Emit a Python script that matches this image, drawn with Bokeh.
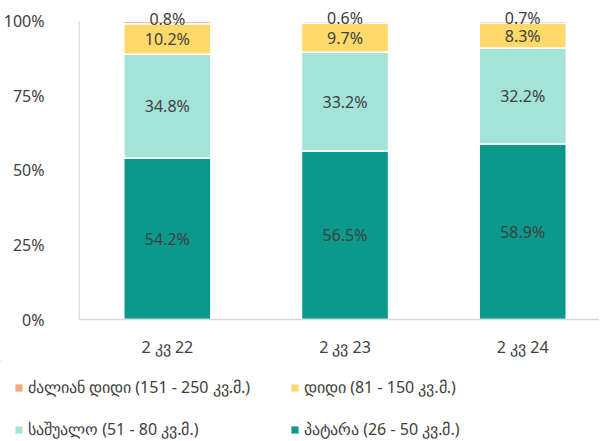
from bokeh.plotting import figure
from bokeh.models import (ColumnDataSource, Range1d, FixedTicker, PrintfTickFormatter,
                          LabelSet, Legend, LegendItem)
from bokeh.core.properties import value
from bokeh.embed import file_html
from bokeh.resources import INLINE

categories = ["2 კვ 22", "2 კვ 23", "2 კვ 24"]
small = [54.2, 56.5, 58.9]
medium = [34.8, 33.2, 32.2]
large = [10.2, 9.7, 8.3]
very_large = [0.8, 0.6, 0.7]
series_names = ["პატარა (26 - 50 კვ.მ.)", "საშუალო (51 - 80 კვ.მ.)",
                "დიდი (81 - 150 კვ.მ.)", "ძალიან დიდი (151 - 250 კვ.მ.)"]
y_ticks = [0, 25, 50, 75, 100]

colors = ["#0A998B", "#A4E3D8", "#FFD96A", "#F6A878"]
FONT = "Noto Sans"
TXT = "#404040"
AXC = "#D9D9D9"

xs = [i + 0.5 for i in range(len(categories))]
keys = ["small", "medium", "large", "very_large"]
src = ColumnDataSource(dict(x=xs, small=small, medium=medium, large=large, very_large=very_large))

p = figure(width=599, height=360, output_backend="svg", toolbar_location=None,
           x_range=Range1d(0, 2.932), y_range=Range1d(0, 104),
           min_border_left=69, min_border_right=0, min_border_top=9, min_border_bottom=40)
p.outline_line_color = None
p.grid.visible = False

rs = p.vbar_stack(keys, x="x", width=0.49, source=src, color=colors,
                  line_color="white", line_width=1.5)

# y axis line only up to the top tick
p.segment(x0=[0.003], y0=[y_ticks[0]], x1=[0.003], y1=[y_ticks[-1]],
          line_color=AXC, line_width=1.5)

# labels
series = [small, medium, large, very_large]
bottoms = [0, 0, 0]
for k, vals in enumerate(series):
    mids = [b + v / 2 for b, v in zip(bottoms, vals)]
    texts = [f"{v:.1f}%" for v in vals]
    lsrc = ColumnDataSource(dict(x=xs, y=mids, t=texts))
    ls = LabelSet(x="x", y="y", text="t", source=lsrc, text_align="center",
                  text_baseline="middle", text_font=value(FONT), text_font_size=value("16px"),
                  text_color=TXT, y_offset=4 if k == 3 else 0)
    p.add_layout(ls)
    bottoms = [b + v for b, v in zip(bottoms, vals)]

# axes
p.xaxis.ticker = FixedTicker(ticks=xs)
p.xaxis.major_label_overrides = {x: c for x, c in zip(xs, categories)}
p.yaxis.ticker = FixedTicker(ticks=y_ticks)
p.yaxis.formatter = PrintfTickFormatter(format="%d%%")
for ax in (p.xaxis, p.yaxis):
    ax.axis_line_color = AXC
    ax.axis_line_width = 1.5
    ax.major_tick_line_color = None
    ax.minor_tick_line_color = None
    ax.major_label_text_font = FONT
    ax.major_label_text_font_size = "16px"
    ax.major_label_text_color = TXT
p.yaxis.axis_line_color = None
p.yaxis.major_label_standoff = 28
p.xaxis.major_label_standoff = 10

# legend figure: zero-height proxy bars on the same data, only their legend swatches show
p2 = figure(width=599, height=80, output_backend="svg", toolbar_location=None,
            x_range=Range1d(100, 101), y_range=Range1d(0, 1),
            x_axis_location=None, y_axis_location=None,
            min_border_left=0, min_border_right=0, min_border_top=0, min_border_bottom=0)
p2.outline_line_color = None
p2.grid.visible = False
proxies = [p2.vbar(x="x", bottom=k, top=k, width=0.49, source=src,
                   fill_color=c, line_color=None) for k, c in zip(keys, colors)]

def make_legend(idx, loc):
    lg = Legend(items=[LegendItem(label=series_names[i], renderers=[proxies[i]]) for i in idx],
                location=loc, orientation="vertical",
                label_text_font=FONT, label_text_font_size="16px", label_text_color=TXT,
                glyph_width=9, glyph_height=9, label_height=20, label_standoff=5,
                spacing=20, padding=0, margin=0,
                background_fill_alpha=0, border_line_alpha=0)
    p2.add_layout(lg, "center")

make_legend([3, 1], (14, 0))
make_legend([2, 0], (290, 0))

open("out.html", "w").write(file_html([p, p2], INLINE))
